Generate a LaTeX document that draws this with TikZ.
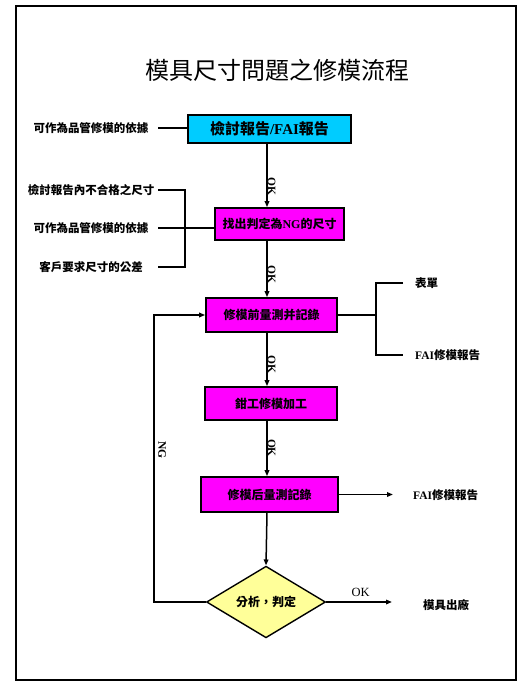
\documentclass[tikz,border=0pt]{standalone}
\usepackage{fontspec}
\setmainfont{Liberation Serif}
\newfontfamily\cjk{Noto Sans CJK TC}
\usetikzlibrary{arrows.meta,positioning,shapes.geometric,calc}
\definecolor{cCyan}{RGB}{0,204,255}
\definecolor{cMag}{RGB}{255,0,255}
\definecolor{cYel}{RGB}{255,255,153}
\tikzset{
  stepbox/.style={draw, line width=1.6pt, fill=cMag, inner sep=0pt,
                  font=\bfseries\fontsize{12}{14}\selectfont},
  headbox/.style={stepbox, fill=cCyan, font=\bfseries\fontsize{15}{17}\selectfont},
  decide/.style={draw, line width=1.4pt, fill=cYel, diamond, inner sep=0pt,
                 minimum width=119pt, minimum height=68pt,
                 font=\bfseries\fontsize{12}{14}\selectfont},
  note/.style={minimum width=134pt, inner sep=0pt, align=center,
               font=\bfseries\fontsize{11.5}{13}\selectfont},
  outlbl/.style={anchor=west, inner sep=0pt, font=\bfseries\fontsize{11.5}{13}\selectfont},
  okl/.style={font=\bfseries\fontsize{11.5}{12}\selectfont, rotate=-90, anchor=south,
              inner sep=0pt, xshift=5pt},
  ln/.style={line width=1.5pt},
  arr/.style={ln, -{Triangle[length=6pt,width=4.5pt]}},
}
\newcommand{\zh}[1]{{\cjk #1}}

\begin{document}
\begin{tikzpicture}[x=1pt, y=-1pt]
  \useasboundingbox (0,0) rectangle (524,688);
  \draw[line width=2pt] (16,6) rectangle (516,680);
  \node[font=\fontsize{24}{26}\selectfont] (title) at (277,70) {\zh{模具尺寸問題之修模流程}};

  % main column
  \node[headbox, minimum width=163pt, minimum height=28pt] (rev) at (269.5,129) {\zh{檢討報告}/FAI\zh{報告}};
  \node[stepbox, minimum width=129pt, minimum height=32pt] (ng) at (279.5,224) {\zh{找出判定為}NG\zh{的尺寸}};
  \node[stepbox, minimum width=131pt, minimum height=34pt] (pre) at (271.5,315) {\zh{修模前量測并記錄}};
  \node[stepbox, minimum width=132pt, minimum height=33pt] (fit) at (271,403.5) {\zh{鉗工修模加工}};
  \node[stepbox, minimum width=137pt, minimum height=35pt] (post) at (269.5,494.5) {\zh{修模后量測記錄}};
  \node[decide] (dia) at (266,602) {\zh{分析，判定}};
  \coordinate (spine) at (267,0);
  \coordinate (ngx) at (154,0);
  \coordinate (brk) at (185,0);
  \coordinate (fork) at (376,0);

  \draw[arr] (rev.south -| spine) -- (ng.north -| spine) node[okl, pos=0.6] {OK};
  \draw[arr] (ng.south -| spine) -- (pre.north -| spine) node[okl, pos=0.5] {OK};
  \draw[arr] (pre.south -| spine) -- (fit.north -| spine) node[okl, pos=0.5] {OK};
  \draw[arr] (fit.south -| spine) -- (post.north -| spine) node[okl, pos=0.4] {OK};
  \draw[arr] (post.south -| spine) -- (dia.north);

  % left notes
  \node[note] (base1) at (91,128) {\zh{可作為品管修模的依據}};
  \node[note] (bad) at (91,190) {\zh{檢討報告內不合格之尺寸}};
  \node[note] (base2) at (91,228) {\zh{可作為品管修模的依據}};
  \node[note] (tol) at (91,267) {\zh{客戶要求尺寸的公差}};
  \draw[ln] (base1.east) -- (base1.east -| rev.west);
  \draw[ln] (bad.east) -- (bad.east -| brk) -- (tol.east -| brk) -- (tol.east);
  \draw[ln] (base2.east) -- (base2.east -| ng.west);

  % right outputs
  \node[outlbl] (form) at (415,283) {\zh{表單}};
  \node[outlbl] (rep1) at (415,355) {FAI\zh{修模報告}};
  \node[outlbl] (rep2) at (413,495) {FAI\zh{修模報告}};
  \node[outlbl] (ship) at (423,605) {\zh{模具出廠}};
  \draw[ln] (pre.east) -- (pre.east -| fork);
  \draw[ln] ([xshift=-12pt]form.west) -- (form.west -| fork) -- (rep1.west -| fork) -- ([xshift=-12pt]rep1.west);
  \draw[arr, shorten >=20pt] (post.east) -- (post.east -| rep2.west);
  \draw[arr, shorten >=31pt] (dia.east) -- (dia.east -| ship.west) node[midway, above=1pt, font=\fontsize{12.5}{13}\selectfont, xshift=-14pt] {OK};

  % NG loop
  \draw[arr] (dia.west) -- (dia.west -| ngx) -- (pre.west -| ngx) -- (pre.west);
  \node[font=\bfseries\fontsize{11.5}{12}\selectfont, rotate=-90] (nglab) at (162,450) {NG};
\end{tikzpicture}
\end{document}
